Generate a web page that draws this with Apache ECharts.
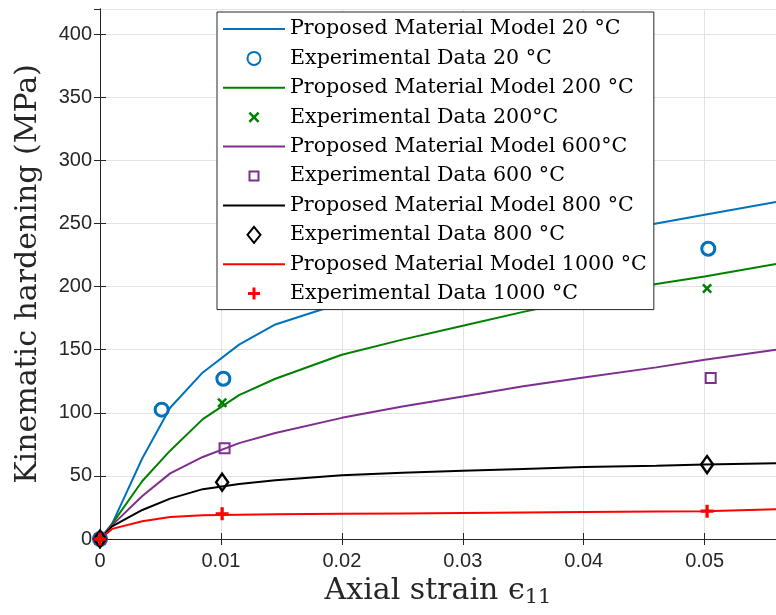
<!DOCTYPE html>
<html><head><meta charset="utf-8">
<script src="https://cdn.jsdelivr.net/npm/echarts@6/dist/echarts.min.js"></script>
<style>html,body{margin:0;padding:0;background:#fff}#c{width:776px;height:615px}</style>
</head><body><div id="c"></div>
<script>
// Model curves: shared strain grid
const modelStrain = [0, 0.001, 0.0035, 0.0058, 0.0085, 0.0115, 0.0145, 0.02, 0.025, 0.03, 0.035, 0.04, 0.046, 0.05, 0.0559];
const model20   = [0, 12, 64, 104, 132, 154, 170, 187, 203, 216, 228, 239, 250, 257, 267];
const model200  = [0, 12, 46, 70, 95, 114, 127, 146, 158, 169, 180, 190, 202, 208, 218];
const model600  = [0, 11, 34, 52, 65, 76, 84, 96, 105, 113, 121, 128, 136, 142, 150];
const model800  = [0, 10, 23, 32, 39.5, 43.5, 46.5, 50.5, 52.5, 54, 55.5, 57, 58, 59, 60];
const model1000 = [0, 8, 14, 17.5, 18.8, 19.3, 19.6, 20, 20.3, 20.7, 21, 21.3, 21.7, 22, 23.5];
// Experimental data
const exp20Strain = [0, 0.0051, 0.0102, 0.0503];
const exp20 = [0, 102.5, 127, 230];
const exp200Strain = [0, 0.0101, 0.0502];
const exp200 = [0, 108, 198.5];
const exp600Strain = [0, 0.0103, 0.0505];
const exp600 = [0, 72, 127.5];
const exp800Strain = [0, 0.0101, 0.0502];
const exp800 = [0, 45, 59];
const exp1000Strain = [0, 0.0101, 0.0502];
const exp1000 = [0, 20, 22];
const names = [
  'Proposed Material Model 20 °C', 'Experimental Data 20 °C',
  'Proposed Material Model 200 °C', 'Experimental Data 200°C',
  'Proposed Material Model 600°C', 'Experimental Data 600 °C',
  'Proposed Material Model 800 °C', 'Experimental Data 800 °C',
  'Proposed Material Model 1000 °C', 'Experimental Data 1000 °C'
];
const colors = ['#0072BD', '#008000', '#7E2F8E', '#000000', '#FF0000'];

const zip = (xs, ys) => xs.map((x, i) => [x, ys[i]]);
const plusPath = 'path://M3,0H5V3H8V5H5V8H3V5H0V3H3Z';
const xPath = 'path://M0,1.8L1.8,0L5,3.2L8.2,0L10,1.8L6.8,5L10,8.2L8.2,10L5,6.8L1.8,10L0,8.2L3.2,5Z';
// legend icons (16px box)
const legLine = 'path://M0,0H62V2H0Z';
const legCircle = 'path://M0,0M16,16M14.5,8A6.5,6.5 0 1 1 1.5,8A6.5,6.5 0 1 1 14.5,8Z';
const legSquare = 'path://M0,0M16,16M3.5,3.5H12.5V12.5H3.5Z';
const legDiamond = 'path://M6.5,0L13,8L6.5,16L0,8Z';
const legPlus = 'path://M0,0M16,16M6.5,2H9.5V6.5H14V9.5H9.5V14H6.5V9.5H2V6.5H6.5Z';
const legX = 'path://M0,0M16,16M2.5,4.3L4.3,2.5L8,6.2L11.7,2.5L13.5,4.3L9.8,8L13.5,11.7L11.7,13.5L8,9.8L4.3,13.5L2.5,11.7L6.2,8Z';
const legendIcons = [legLine, legCircle, legLine, legX, legLine, legSquare, legLine, legDiamond, legLine, legPlus];

function lineSeries(name, ys, color) {
  return { name, type: 'line', data: zip(modelStrain, ys), symbol: 'none', smooth: false,
    lineStyle: { color, width: 2 }, itemStyle: { color }, z: 2, clip: true };
}
function scatterSeries(name, xs, ys, opts) {
  return Object.assign({ name, type: 'scatter', data: zip(xs, ys), clip: false, z: 3 }, opts);
}
const hollow = 'rgba(255,255,255,0)';
const series = [
  lineSeries(names[0], model20, colors[0]),
  scatterSeries(names[1], exp20Strain, exp20, { symbol: 'circle', symbolSize: 13,
    itemStyle: { color: hollow, borderColor: colors[0], borderWidth: 3, opacity: 1 } }),
  lineSeries(names[2], model200, colors[1]),
  scatterSeries(names[3], exp200Strain, exp200, { symbol: xPath, symbolSize: 10,
    itemStyle: { color: colors[1], opacity: 1 } }),
  lineSeries(names[4], model600, colors[2]),
  scatterSeries(names[5], exp600Strain, exp600, { symbol: 'rect', symbolSize: 10,
    itemStyle: { color: hollow, borderColor: colors[2], borderWidth: 2, opacity: 1 } }),
  lineSeries(names[6], model800, colors[3]),
  scatterSeries(names[7], exp800Strain, exp800, { symbol: 'diamond', symbolSize: [12, 17],
    itemStyle: { color: hollow, borderColor: colors[3], borderWidth: 2.5, opacity: 1 } }),
  lineSeries(names[8], model1000, colors[4]),
  scatterSeries(names[9], exp1000Strain, exp1000, { symbol: plusPath, symbolSize: 13,
    itemStyle: { color: colors[4], opacity: 1 } })
];

const tickColor = '#262626';
const serif = 'DejaVu Serif';
const chart = echarts.init(document.getElementById('c'), null, { renderer: 'canvas' });
chart.setOption({
  animation: false,
  backgroundColor: '#fff',
  grid: { left: 100, right: -1, top: 9, bottom: 76, containLabel: false },
  legend: {
    data: names.map((n, i) => ({ name: n, icon: legendIcons[i] })),
    orient: 'vertical', left: 217, top: 12,
    backgroundColor: '#fff', borderColor: '#262626', borderWidth: 1,
    padding: [5, 7, 4, 6], itemWidth: 62, itemHeight: 16, itemGap: 5.4,
    symbolKeepAspect: true, selectedMode: false,
    textStyle: { fontFamily: serif, fontSize: 20.6, color: '#000', lineHeight: 24 }
  },
  xAxis: [{
    type: 'value', min: 0, max: 0.0559, interval: 0.01,
    name: 'Axial strain ϵ{sub|11}', nameLocation: 'middle', nameGap: 30,
    nameTextStyle: { fontFamily: serif, fontSize: 30, color: '#262626',
      rich: { sub: { fontFamily: serif, fontSize: 21, verticalAlign: 'bottom', padding: [14, 0, 0, 0], color: '#262626' } } },
    axisLine: { show: true, lineStyle: { color: tickColor, width: 1 } },
    axisTick: { show: true, inside: true, length: 6, lineStyle: { color: tickColor } },
    axisLabel: { color: tickColor, fontSize: 20, fontFamily: 'Liberation Sans', margin: 12, showMaxLabel: false },
    splitLine: { show: true, lineStyle: { color: '#e3e3e3', width: 1 } }
  }, {
    type: 'value', position: 'top', min: 0, max: 0.0559, interval: 0.01,
    axisLine: { show: true, lineStyle: { color: tickColor, width: 1 } },
    axisTick: { show: true, inside: true, length: 6, lineStyle: { color: tickColor } },
    axisLabel: { show: false }, splitLine: { show: false }
  }],
  yAxis: [{
    type: 'value', min: 0, max: 420, interval: 50,
    name: 'Kinematic hardening (MPa)', nameLocation: 'middle', nameGap: 57, nameRotate: 90,
    nameTextStyle: { fontFamily: serif, fontSize: 30, color: '#262626' },
    axisLine: { show: true, lineStyle: { color: tickColor, width: 1 } },
    axisTick: { show: true, inside: true, length: 6, lineStyle: { color: tickColor } },
    axisLabel: { color: tickColor, fontSize: 20, fontFamily: 'Liberation Sans', margin: 8, showMaxLabel: false },
    splitLine: { show: true, lineStyle: { color: '#e3e3e3', width: 1 } }
  }, {
    type: 'value', position: 'right', min: 0, max: 420, interval: 50,
    axisLine: { show: true, lineStyle: { color: tickColor, width: 1 } },
    axisTick: { show: true, inside: true, length: 6, lineStyle: { color: tickColor } },
    axisLabel: { show: false }, splitLine: { show: false }
  }],
  series
});
</script></body></html>
